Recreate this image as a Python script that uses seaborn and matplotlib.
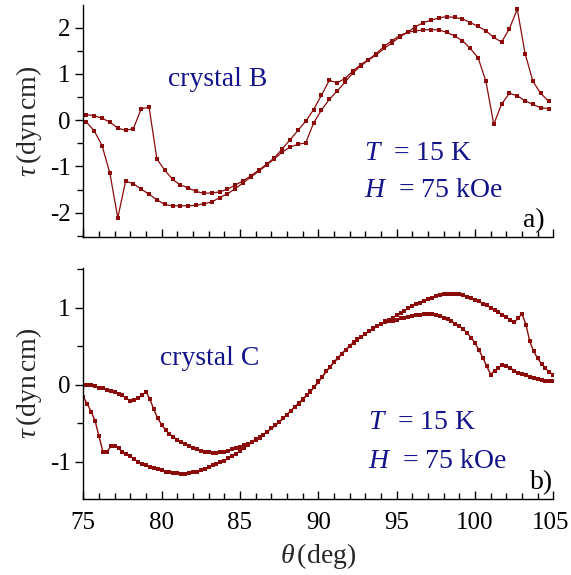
import matplotlib
matplotlib.use("Agg")
import matplotlib.pyplot as plt
import matplotlib.transforms as mtrans
import numpy as np
import pandas as pd
import seaborn as sns
from matplotlib.ticker import MultipleLocator

# ---------------- data ----------------
theta_B = [75.2, 75.7, 76.2, 76.7, 77.2, 77.7, 78.2, 78.7, 79.2, 79.7,
           80.2, 80.7, 81.2, 81.7, 82.2, 82.7, 83.2, 83.7, 84.2, 84.7,
           85.2, 85.7, 86.2, 86.7, 87.2, 87.7, 88.2, 88.7, 89.2, 89.7,
           90.2, 90.7, 91.2, 91.7, 92.2, 92.7, 93.2, 93.7, 94.2, 94.7,
           95.2, 95.7, 96.2, 96.7, 97.2, 97.7, 98.2, 98.7, 99.2, 99.7,
           100.2, 100.7, 101.2, 101.7, 102.2, 102.7, 103.2, 103.7, 104.2, 104.7]

tau_B_up = [0.12, 0.10, 0.04, -0.04, -0.17, -0.22, -0.18, 0.25, 0.28, -0.84,
            -1.08, -1.28, -1.40, -1.46, -1.54, -1.58, -1.57, -1.55, -1.49, -1.40,
            -1.31, -1.20, -1.08, -0.95, -0.81, -0.62, -0.42, -0.22, -0.02, 0.23,
            0.54, 0.86, 0.81, 0.90, 1.06, 1.20, 1.31, 1.44, 1.60, 1.72,
            1.83, 1.90, 2.02, 2.11, 2.16, 2.21, 2.24, 2.22, 2.19, 2.11,
            2.03, 1.93, 1.79, 1.69, 1.98, 2.40, 1.44, 0.84, 0.58, 0.41]

tau_B_down = [-0.04, -0.23, -0.55, -1.15, -2.11, -1.32, -1.37, -1.49, -1.60, -1.72,
              -1.82, -1.85, -1.85, -1.85, -1.84, -1.80, -1.77, -1.67, -1.59, -1.48,
              -1.35, -1.23, -1.10, -0.97, -0.83, -0.69, -0.58, -0.52, -0.49, -0.06,
              0.22, 0.45, 0.63, 0.82, 1.02, 1.17, 1.30, 1.41, 1.55, 1.67,
              1.80, 1.90, 1.93, 1.95, 1.96, 1.95, 1.90, 1.82, 1.72, 1.55,
              1.35, 0.84, -0.09, 0.35, 0.58, 0.53, 0.42, 0.34, 0.27, 0.25]

theta_C = [75.00, 75.25, 75.50, 75.75, 76.00, 76.25, 76.50, 76.75,
           77.00, 77.25, 77.50, 77.75, 78.00, 78.25, 78.50, 78.75,
           79.00, 79.25, 79.50, 79.75, 80.00, 80.25, 80.50, 80.75,
           81.00, 81.25, 81.50, 81.75, 82.00, 82.25, 82.50, 82.75,
           83.00, 83.25, 83.50, 83.75, 84.00, 84.25, 84.50, 84.75,
           85.00, 85.25, 85.50, 85.75, 86.00, 86.25, 86.50, 86.75,
           87.00, 87.25, 87.50, 87.75, 88.00, 88.25, 88.50, 88.75,
           89.00, 89.25, 89.50, 89.75, 90.00, 90.25, 90.50, 90.75,
           91.00, 91.25, 91.50, 91.75, 92.00, 92.25, 92.50, 92.75,
           93.00, 93.25, 93.50, 93.75, 94.00, 94.25, 94.50, 94.75,
           95.00, 95.25, 95.50, 95.75, 96.00, 96.25, 96.50, 96.75,
           97.00, 97.25, 97.50, 97.75, 98.00, 98.25, 98.50, 98.75,
           99.00, 99.25, 99.50, 99.75, 100.00, 100.25, 100.50, 100.75,
           101.00, 101.25, 101.50, 101.75, 102.00, 102.25, 102.50, 102.75,
           103.00, 103.25, 103.50, 103.75, 104.00, 104.25, 104.50, 104.75,
           105.00]

tau_C_up = [0.00, 0.00, -0.01, -0.02, -0.04, -0.05, -0.07, -0.08,
            -0.10, -0.12, -0.14, -0.18, -0.21, -0.20, -0.18, -0.14,
            -0.09, -0.19, -0.32, -0.44, -0.52, -0.59, -0.64, -0.68,
            -0.72, -0.74, -0.77, -0.80, -0.82, -0.84, -0.86, -0.87,
            -0.88, -0.89, -0.89, -0.88, -0.87, -0.86, -0.84, -0.82,
            -0.81, -0.79, -0.77, -0.74, -0.71, -0.69, -0.65, -0.61,
            -0.57, -0.53, -0.49, -0.44, -0.39, -0.34, -0.29, -0.24,
            -0.19, -0.14, -0.08, -0.03, 0.03, 0.10, 0.17, 0.23,
            0.29, 0.34, 0.40, 0.45, 0.50, 0.54, 0.58, 0.62,
            0.66, 0.69, 0.72, 0.76, 0.79, 0.82, 0.84, 0.87,
            0.90, 0.93, 0.96, 0.99, 1.02, 1.04, 1.06, 1.09,
            1.11, 1.13, 1.15, 1.16, 1.17, 1.18, 1.18, 1.18,
            1.17, 1.16, 1.14, 1.12, 1.10, 1.08, 1.05, 1.03,
            1.00, 0.97, 0.94, 0.91, 0.88, 0.84, 0.81, 0.86,
            0.92, 0.78, 0.56, 0.43, 0.34, 0.27, 0.21, 0.16,
            0.13]

tau_C_down = [-0.16, -0.25, -0.35, -0.47, -0.67, -0.87, -0.88, -0.80,
              -0.80, -0.83, -0.87, -0.90, -0.93, -0.97, -1.00, -1.03,
              -1.05, -1.07, -1.08, -1.10, -1.11, -1.13, -1.14, -1.15,
              -1.15, -1.16, -1.16, -1.15, -1.14, -1.13, -1.11, -1.10,
              -1.07, -1.05, -1.03, -1.01, -0.99, -0.96, -0.93, -0.90,
              -0.86, -0.83, -0.79, -0.75, -0.72, -0.68, -0.65, -0.61,
              -0.57, -0.53, -0.48, -0.44, -0.39, -0.34, -0.29, -0.25,
              -0.20, -0.14, -0.09, -0.03, 0.04, 0.10, 0.17, 0.23,
              0.29, 0.35, 0.40, 0.45, 0.50, 0.55, 0.59, 0.62,
              0.66, 0.70, 0.73, 0.76, 0.79, 0.81, 0.83, 0.83,
              0.84, 0.86, 0.87, 0.88, 0.89, 0.90, 0.91, 0.92,
              0.92, 0.92, 0.91, 0.89, 0.87, 0.85, 0.82, 0.79,
              0.76, 0.72, 0.67, 0.61, 0.54, 0.45, 0.35, 0.24,
              0.13, 0.18, 0.22, 0.25, 0.24, 0.22, 0.18, 0.15,
              0.14, 0.12, 0.10, 0.08, 0.07, 0.06, 0.05, 0.05,
              0.04]

x_ticks = [75, 80, 85, 90, 95, 100, 105]

# ---------------- style ----------------
sns.set_theme(style="ticks")
plt.rcParams.update({
    "font.family": ["Liberation Serif", "DejaVu Serif"],
    "mathtext.fontset": "custom",
    "mathtext.rm": "Liberation Serif",
    "mathtext.it": "Liberation Serif:italic",
    "mathtext.bf": "Liberation Serif:bold",
    "axes.unicode_minus": False,
    "axes.linewidth": 1.0,
    "axes.edgecolor": "black",
    "xtick.color": "black",
    "ytick.color": "black",
})

LINE = "#8b0a0a"
NAVY = "#13138a"
FS = 18
FT = 20

df_B = pd.DataFrame({
    "theta": theta_B + theta_B,
    "tau": tau_B_up + tau_B_down,
    "sweep": ["up"] * len(theta_B) + ["down"] * len(theta_B),
})
df_C = pd.DataFrame({
    "theta": theta_C + theta_C,
    "tau": tau_C_up + tau_C_down,
    "sweep": ["up"] * len(theta_C) + ["down"] * len(theta_C),
})

fig = plt.figure(figsize=(5.71, 5.75), dpi=100)
W, H = 571.0, 575.0
x0, x1 = 83.3, 553.3
ax1 = fig.add_axes([x0 / W, 1 - 237.3 / H, (x1 - x0) / W, (237.3 - 5) / H])
ax2 = fig.add_axes([x0 / W, 1 - 499.3 / H, (x1 - x0) / W, (499.3 - 268.3) / H])

sns.lineplot(data=df_B, x="theta", y="tau", hue="sweep", units="sweep",
             palette=[LINE, LINE], estimator=None, sort=False, legend=False,
             marker="s", markersize=3.2, markeredgewidth=0, linewidth=0.9, ax=ax1)
sns.lineplot(data=df_C, x="theta", y="tau", hue="sweep", units="sweep",
             palette=[LINE, LINE], estimator=None, sort=False, legend=False,
             marker="s", markersize=2.7, markeredgewidth=0, linewidth=1.0, ax=ax2)

for ax in (ax1, ax2):
    sns.despine(ax=ax)
    ax.set_xlim(75, 105)
    ax.set_xticks(x_ticks)
    ax.xaxis.set_minor_locator(MultipleLocator(1))
    ax.yaxis.set_major_locator(MultipleLocator(1))
    ax.yaxis.set_minor_locator(MultipleLocator(0.5))
    ax.tick_params(axis="x", which="major", direction="in", length=6, width=1,
                   labelsize=FS, pad=9)
    ax.tick_params(axis="x", which="minor", direction="in", length=4, width=1)
    ax.tick_params(axis="y", which="major", direction="out", length=6, width=1,
                   labelsize=FS, pad=3)
    ax.tick_params(axis="y", which="minor", direction="out", length=4, width=1)
    ax.set_ylabel(r"$\tau\,$(dyn$\,$cm)", fontsize=FT, labelpad=4)
    ax.patch.set_alpha(0)

ax1.set_ylim(-2.53, 2.49)
ax2.set_ylim(-1.49, 1.51)
ax1.tick_params(axis="x", labelbottom=False)
ax1.set_xlabel("")
ax2.set_xlabel(r"$\theta\,$(deg)", fontsize=FT, labelpad=5)

# keep the last tick label inside the canvas
fig.canvas.draw()
last = ax2.get_xticklabels()[-1]
last.set_transform(last.get_transform() +
                   mtrans.ScaledTranslation(-3 / 100, 0, fig.dpi_scale_trans))

ax1.text(80.4, 0.74, "crystal B", color=NAVY, fontsize=FT)
ax1.text(92.9, -0.87, r"$T$  = 15 K", color=NAVY, fontsize=FT)
ax1.text(92.9, -1.66, r"$H$  = 75 kOe", color=NAVY, fontsize=FT)
ax1.text(103.05, -2.31, "a)", color="black", fontsize=FT)

ax2.text(79.9, 0.25, "crystal C", color=NAVY, fontsize=FT)
ax2.text(93.2, -0.58, r"$T$  = 15 K", color=NAVY, fontsize=FT)
ax2.text(93.2, -1.08, r"$H$  = 75 kOe", color=NAVY, fontsize=FT)
ax2.text(103.5, -1.36, "b)", color="black", fontsize=FT)

fig.savefig("out.png", dpi=100, facecolor="white")
